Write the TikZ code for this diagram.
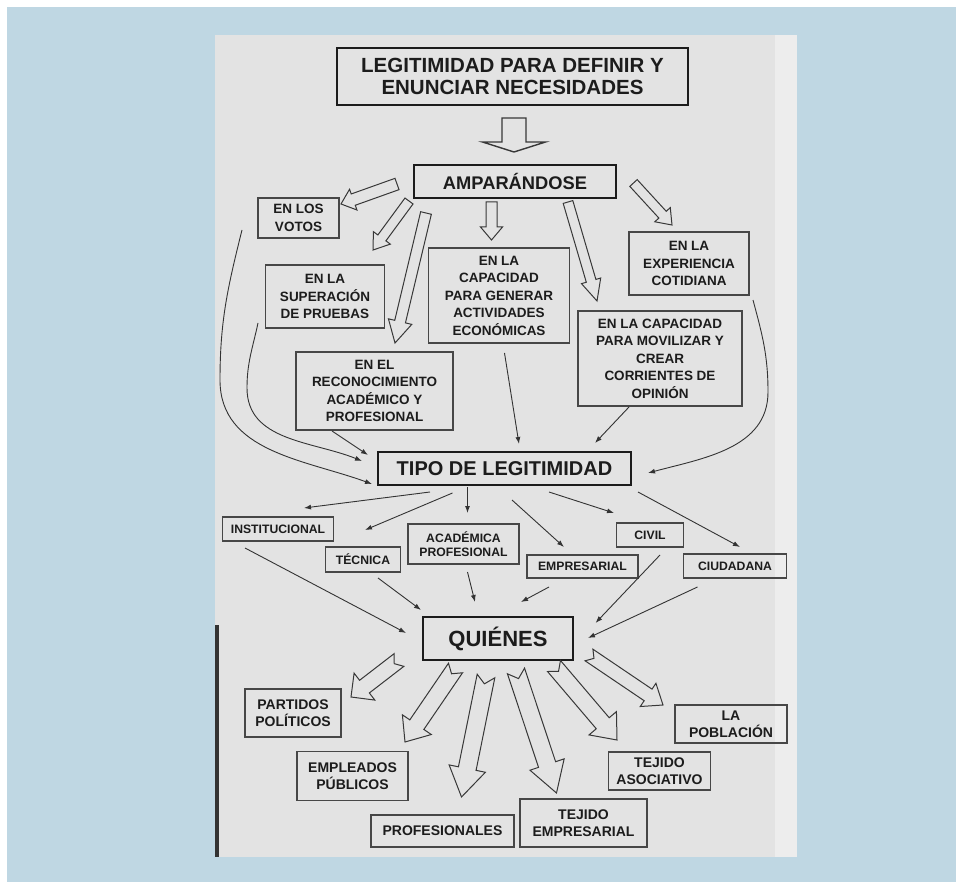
\documentclass[tikz,border=0pt]{standalone}
\usepackage{fontspec}
\setmainfont{Liberation Sans}
\usetikzlibrary{calc,arrows.meta}

\definecolor{bgblue}{RGB}{191,215,227}
\definecolor{paper}{RGB}{227,227,227}
\definecolor{paperlight}{RGB}{237,237,237}
\definecolor{ink}{RGB}{28,28,28}

% font sizes
\newcommand\fTitle{\fontsize{20.5}{22}\selectfont\bfseries}
\newcommand\fMain{\fontsize{18.3}{20}\selectfont\bfseries}
\newcommand\fTipo{\fontsize{20}{22}\selectfont\bfseries}
\newcommand\fWho{\fontsize{22}{24}\selectfont\bfseries}
\newcommand\fBox{\fontsize{13.5}{17.5}\selectfont\bfseries}
\newcommand\fLow{\fontsize{14}{17.5}\selectfont\bfseries}
\newcommand\fCat{\fontsize{12.2}{14}\selectfont\bfseries}

% hollow block arrow: tail, tip, shaft half width, head half width, head length, tail notch
\newcommand\hollowarrow[6]{%
  \coordinate (habase) at ($(#2)!#5!(#1)$);
  \draw[blockarrow]
    ($(#1)!#3!90:(#2)$) -- ($(#1)!#6!(#2)$) -- ($(#1)!#3!-90:(#2)$)
    -- ($(habase)!#3!90:(#1)$) -- ($(habase)!#4!90:(#1)$) -- (#2)
    -- ($(habase)!#4!-90:(#1)$) -- ($(habase)!#3!-90:(#1)$) -- cycle;}

\tikzset{
  mainbox/.style={draw=ink, line width=2.6pt, inner sep=0pt, align=center, text=ink},
  textbox/.style={draw=black!72, line width=1.1pt, inner sep=0pt, align=center, text=ink},
  blockarrow/.style={draw=black!78, line width=1pt, fill=paper, line join=miter},
  conn/.style={draw=ink!90, line width=0.9pt, -{Latex[length=7pt,width=5pt]}},
}

\begin{document}
\begin{tikzpicture}[x=1pt,y=-1pt]
\useasboundingbox (0,0) rectangle (956,882);
% backdrop and scanned page
\fill[white] (0,0) rectangle (956,882);
\fill[bgblue] (7,7) rectangle (956,882);
\fill[paper] (215,35) rectangle (797,857);
\fill[paperlight] (775,35) rectangle (797,857);
\fill[black!80] (215,625) rectangle (218.5,857);

% main boxes
\node[mainbox, font=\fTitle, minimum width=351pt, minimum height=57pt] (title) at (512.5,76.5)
  {LEGITIMIDAD PARA DEFINIR Y\\ENUNCIAR NECESIDADES};
\node[mainbox, font=\fMain, minimum width=202pt, minimum height=33pt] (amp) at (515,181.5) {AMPARÁNDOSE};
\node[mainbox, font=\fTipo, minimum width=253pt, minimum height=33pt] (tipo) at (504.5,468.5) {TIPO DE LEGITIMIDAD};
\node[mainbox, font=\fWho, minimum width=150pt, minimum height=43pt] (quien) at (498,638.5) {QUIÉNES};

% sources of legitimacy
\node[textbox, font=\fBox, minimum width=81pt, minimum height=40pt] (votos) at (298.5,218) {EN LOS\\VOTOS};
\node[textbox, font=\fBox, minimum width=119pt, minimum height=63pt] (prueba) at (325,296.5) {EN LA\\SUPERACIÓN\\DE PRUEBAS};
\node[textbox, font=\fBox, minimum width=157pt, minimum height=78pt] (recon) at (374.5,391) {EN EL\\RECONOCIMIENTO\\ACADÉMICO Y\\PROFESIONAL};
\node[textbox, font=\fBox, minimum width=141pt, minimum height=95pt] (econ) at (499,295.5) {EN LA\\CAPACIDAD\\PARA GENERAR\\ACTIVIDADES\\ECONÓMICAS};
\node[textbox, font=\fBox, minimum width=120pt, minimum height=63pt] (exper) at (689,263.5) {EN LA\\EXPERIENCIA\\COTIDIANA};
\node[textbox, font=\fBox, minimum width=164pt, minimum height=95pt] (opin) at (660,358.5) {EN LA CAPACIDAD\\PARA MOVILIZAR Y\\CREAR\\CORRIENTES DE\\OPINIÓN};

% types of legitimacy
\node[textbox, font=\fCat, minimum width=111pt, minimum height=24pt] (inst) at (278,529) {INSTITUCIONAL};
\node[textbox, font=\fCat, minimum width=75pt, minimum height=25pt] (tecn) at (363,559.5) {TÉCNICA};
\node[textbox, font=\fCat, minimum width=111pt, minimum height=40pt] (acad) at (463.5,544) {ACADÉMICA\\PROFESIONAL};
\node[textbox, font=\fCat, minimum width=111pt, minimum height=23pt] (empr) at (582.5,566.5) {EMPRESARIAL};
\node[textbox, font=\fCat, minimum width=67pt, minimum height=24pt] (civil) at (650,535) {CIVIL};
\node[textbox, font=\fCat, minimum width=103pt, minimum height=24pt] (ciud) at (735,566) {CIUDADANA};

% actors
\node[textbox, font=\fLow, minimum width=96pt, minimum height=48pt] (part) at (293,713) {PARTIDOS\\POLÍTICOS};
\node[textbox, font=\fLow, minimum width=111pt, minimum height=49pt] (emple) at (352.5,776) {EMPLEADOS\\PÚBLICOS};
\node[textbox, font=\fLow, minimum width=143pt, minimum height=32pt] (profs) at (442.5,831) {PROFESIONALES};
\node[textbox, font=\fLow, minimum width=127pt, minimum height=48pt] (tejemp) at (583.5,823) {TEJIDO\\EMPRESARIAL};
\node[textbox, font=\fLow, minimum width=102pt, minimum height=38pt] (tejaso) at (659.5,771) {TEJIDO\\ASOCIATIVO};
\node[textbox, font=\fLow, minimum width=112pt, minimum height=38pt] (pobl) at (731,724) {LA\\POBLACIÓN};

% block arrow ends
\coordinate (t0) at (514,118);   \coordinate (h0) at (514,152);
\coordinate (t1) at (397,184);   \coordinate (h1) at (341,204);
\coordinate (t2) at (409,201);   \coordinate (h2) at (373,250);
\coordinate (t3) at (426,213);   \coordinate (h3) at (395,343);
\coordinate (t4) at (491.5,202); \coordinate (h4) at (491.5,240);
\coordinate (t5) at (568,202);   \coordinate (h5) at (597,301);
\coordinate (t6) at (633.5,183); \coordinate (h6) at (672,225);
\coordinate (u1) at (399,660);   \coordinate (v1) at (351,697);
\coordinate (u2) at (455.5,668); \coordinate (v2) at (405,742);
\coordinate (u3) at (486,676);   \coordinate (v3) at (461.5,797);
\coordinate (u4) at (516,671);   \coordinate (v4) at (556.5,793);
\coordinate (u5) at (554,666);   \coordinate (v5) at (617,740);
\coordinate (u6) at (589,655);   \coordinate (v6) at (663,705);

% title to AMPARÁNDOSE
\begin{scope}[blockarrow/.append style={line width=1.4pt}]
\hollowarrow{t0}{h0}{12pt}{31.5pt}{10pt}{0pt}
\end{scope}
% AMPARÁNDOSE to the sources
\hollowarrow{t1}{h1}{6pt}{11pt}{13pt}{0pt}
\hollowarrow{t2}{h2}{5pt}{10.5pt}{15pt}{0pt}
\hollowarrow{t3}{h3}{5.5pt}{12pt}{22pt}{0pt}
\hollowarrow{t4}{h4}{5.5pt}{11pt}{13pt}{0pt}
\hollowarrow{t5}{h5}{5pt}{10pt}{21pt}{0pt}
\hollowarrow{t6}{h6}{5pt}{10.5pt}{14pt}{0pt}
% QUIÉNES to the actors
\hollowarrow{u1}{v1}{8pt}{17pt}{17pt}{6pt}
\hollowarrow{u2}{v2}{8.5pt}{17.5pt}{21pt}{7pt}
\hollowarrow{u3}{v3}{9pt}{18.5pt}{29pt}{8pt}
\hollowarrow{u4}{v4}{9pt}{18pt}{30pt}{8pt}
\hollowarrow{u5}{v5}{8.5pt}{18pt}{22pt}{7pt}
\hollowarrow{u6}{v6}{7pt}{14pt}{18pt}{6pt}

% sources to TIPO DE LEGITIMIDAD
\coordinate (o1) at (242,230); \coordinate (o2) at (220,380); \coordinate (o3) at (372,484);
\draw[conn] (o1) to[out=256,in=90] (o2) to[out=-90,in=160] (o3);
\coordinate (i1) at (258,323); \coordinate (i2) at (247,388); \coordinate (i3) at (362,461);
\draw[conn] (i1) to[out=258,in=90] (i2) to[out=-90,in=158] (i3);
\coordinate (rc1) at (332,431); \coordinate (rc2) at (368,455);
\draw[conn] (rc1) -- (rc2);
\coordinate (ec1) at (504.5,353); \coordinate (ec2) at (519,444);
\draw[conn] (ec1) -- (ec2);
\coordinate (op1) at (629,407); \coordinate (op2) at (595,443);
\draw[conn] (op1) -- (op2);
\coordinate (r1) at (753,300); \coordinate (r2) at (768,392); \coordinate (r3) at (648,473);
\draw[conn] (r1) to[out=-75,in=90] (r2) to[out=-90,in=15] (r3);

% TIPO DE LEGITIMIDAD to the types
\coordinate (a1) at (430,492);   \coordinate (b1) at (304,508);
\coordinate (a2) at (452.5,493); \coordinate (b2) at (365,530);
\coordinate (a3) at (467.5,487); \coordinate (b3) at (467.5,513);
\coordinate (a4) at (512,500);   \coordinate (b4) at (564,547);
\coordinate (a5) at (549,492);   \coordinate (b5) at (614,513);
\coordinate (a6) at (638,492);   \coordinate (b6) at (740,547);
\foreach \k in {1,...,6} \draw[conn] (a\k) -- (b\k);

% types to QUIÉNES
\coordinate (c1) at (245,548);   \coordinate (d1) at (406,633);
\coordinate (c2) at (378,578);   \coordinate (d2) at (421,610);
\coordinate (c3) at (467.5,572); \coordinate (d3) at (475,602);
\coordinate (c4) at (549,587);   \coordinate (d4) at (521,602);
\coordinate (c5) at (660,555);   \coordinate (d5) at (595.5,623);
\coordinate (c6) at (697.5,587); \coordinate (d6) at (588,638);
\foreach \k in {1,...,6} \draw[conn] (c\k) -- (d\k);
\end{tikzpicture}
\end{document}
